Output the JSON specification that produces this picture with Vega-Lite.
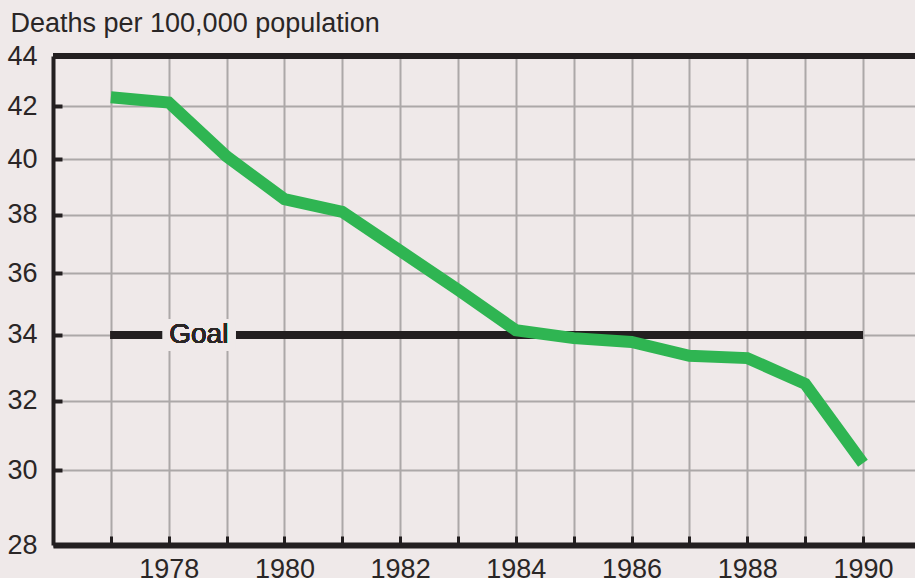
{
  "$schema": "https://vega.github.io/schema/vega-lite/v6.json",
  "width": 862,
  "height": 489,
  "autosize": {"type": "none"},
  "padding": {"left": 53, "top": 56, "right": 0, "bottom": 33},
  "background": "#efe9e9",
  "config": {"view": {"stroke": null}, "font": "Liberation Sans"},
  "data": {
    "values": [
      {"year": 1977, "rate": 42.35},
      {"year": 1978, "rate": 42.15},
      {"year": 1979, "rate": 40.1},
      {"year": 1980, "rate": 38.55},
      {"year": 1981, "rate": 38.1},
      {"year": 1982, "rate": 36.75},
      {"year": 1983, "rate": 35.45},
      {"year": 1984, "rate": 34.15},
      {"year": 1985, "rate": 33.9},
      {"year": 1986, "rate": 33.78},
      {"year": 1987, "rate": 33.35},
      {"year": 1988, "rate": 33.28},
      {"year": 1989, "rate": 32.5},
      {"year": 1990, "rate": 30.2}
    ]
  },
  "layer": [
    {
      "mark": {"type": "line", "color": "#2fb552", "strokeWidth": 12, "strokeCap": "butt", "strokeJoin": "miter", "opacity": 0},
      "encoding": {
        "x": {
          "field": "year", "type": "quantitative",
          "scale": {"domain": [1976, 1990.9], "nice": false, "zero": false},
          "axis": {
            "values": [1977, 1978, 1979, 1980, 1981, 1982, 1983, 1984, 1985, 1986, 1987, 1988, 1989, 1990],
            "format": "d",
            "labelExpr": "datum.value % 2 == 0 ? datum.label : ''",
            "title": null,
            "grid": true, "gridColor": "#aca8a8", "gridWidth": 2,
            "domainColor": "#231f20", "domainWidth": 6,
            "tickColor": "#231f20", "tickWidth": 3, "tickSize": -9,
            "labelFontSize": 27, "labelColor": "#2a2626", "labelPadding": 20,
            "labelFlush": false, "labelOverlap": false
          }
        },
        "y": {
          "field": "rate", "type": "quantitative",
          "scale": {"type": "log", "domain": [28, 44], "nice": false, "zero": false},
          "axis": {
            "values": [28, 30, 32, 34, 36, 38, 40, 42, 44],
            "format": "d",
            "title": "Deaths per 100,000 population",
            "titleAngle": 0, "titleAlign": "left", "titleBaseline": "alphabetic",
            "titleX": -43, "titleY": -25, "titleFontSize": 27, "titleFontWeight": "normal", "titleColor": "#2a2626",
            "grid": true, "gridColor": "#aca8a8", "gridWidth": 2,
            "domainColor": "#231f20", "domainWidth": 4,
            "tickColor": "#231f20", "tickWidth": 4, "tickSize": -9,
            "labelFontSize": 27, "labelColor": "#2a2626", "labelPadding": 25,
            "labelFlush": false, "labelOverlap": false
          }
        }
      }
    },
    {
      "mark": {"type": "rule", "color": "#231f20", "strokeWidth": 5},
      "encoding": {"y": {"datum": 44, "type": "quantitative"}}
    },
    {
      "mark": {"type": "rule", "color": "#231f20", "strokeWidth": 8},
      "encoding": {
        "x": {"datum": 1977, "type": "quantitative"},
        "x2": {"datum": 1990},
        "y": {"datum": 34, "type": "quantitative"}
      }
    },
    {
      "mark": {"type": "rect", "color": "#efe9e9"},
      "encoding": {
        "x": {"datum": 1977.9, "type": "quantitative"},
        "x2": {"datum": 1979.15},
        "y": {"datum": 33.5, "type": "quantitative"},
        "y2": {"datum": 34.5}
      }
    },
    {
      "mark": {"type": "text", "text": "Goal", "fontSize": 28, "color": "#2a2626", "align": "center", "baseline": "middle"},
      "encoding": {
        "x": {"datum": 1978.52, "type": "quantitative"},
        "y": {"datum": 34, "type": "quantitative"}
      }
    },
    {
      "mark": {"type": "line", "color": "#2fb552", "strokeWidth": 12, "strokeCap": "butt", "strokeJoin": "miter"},
      "encoding": {
        "x": {"field": "year", "type": "quantitative"},
        "y": {"field": "rate", "type": "quantitative"}
      }
    }
  ]
}
